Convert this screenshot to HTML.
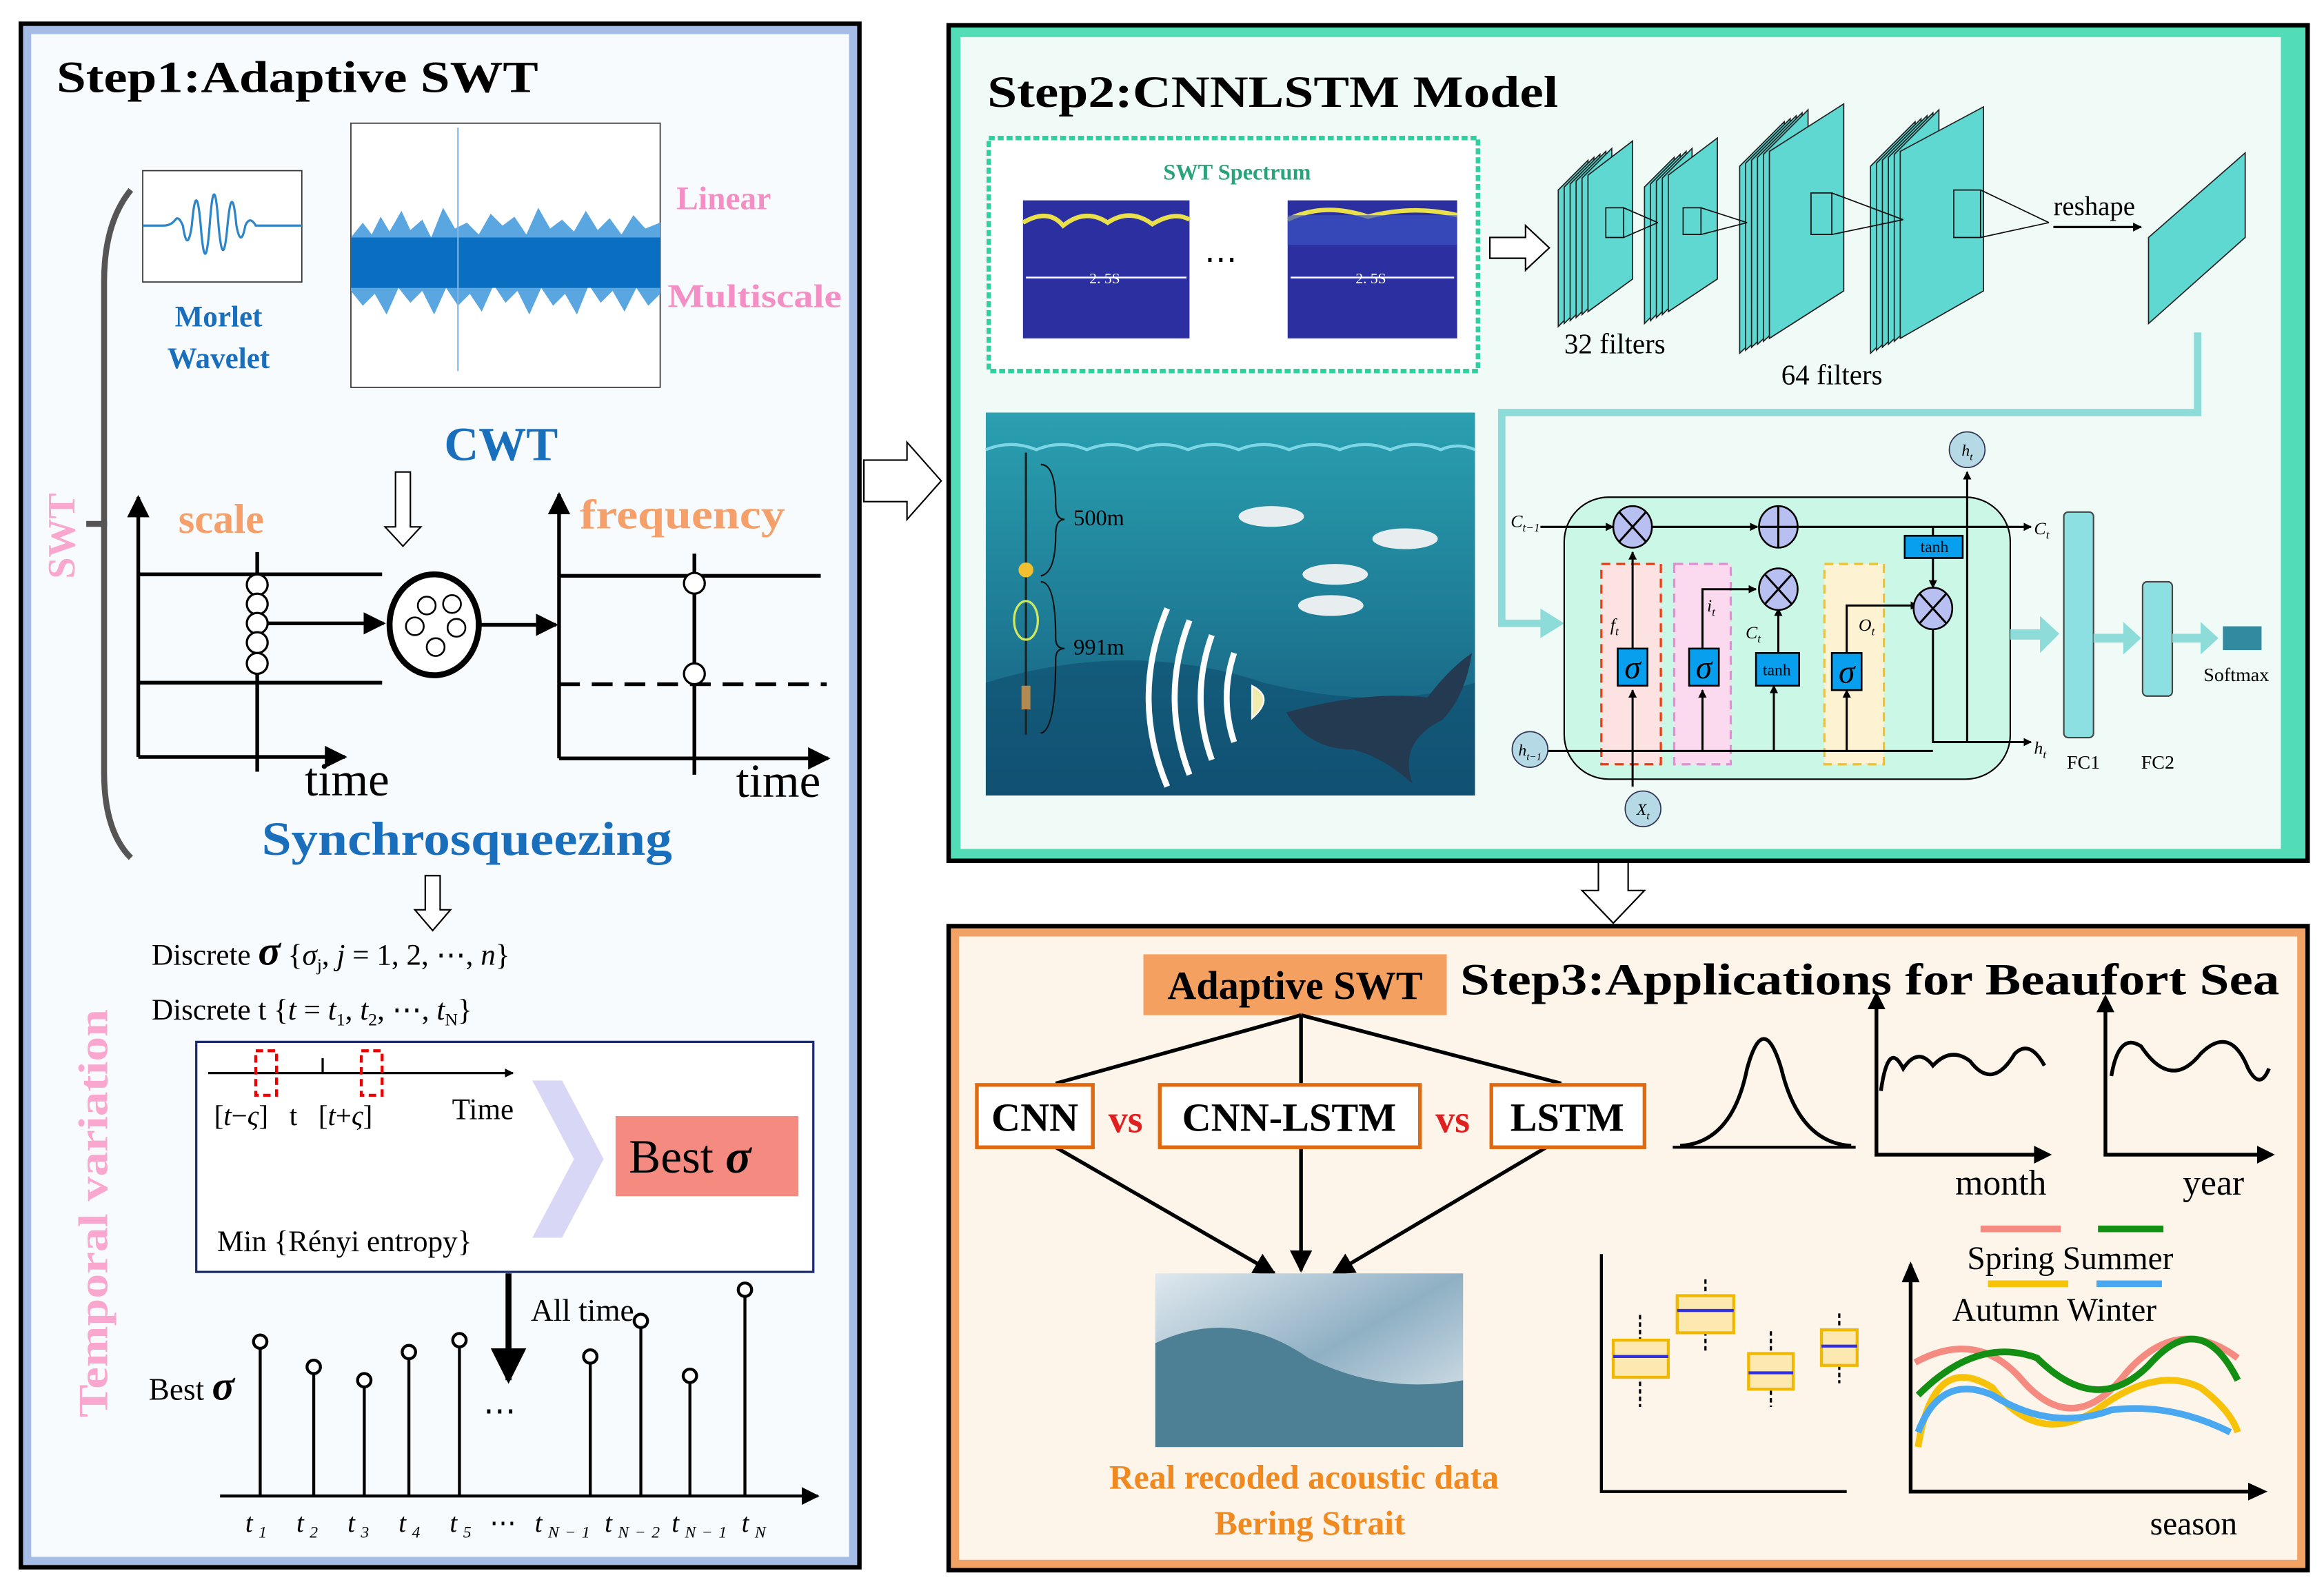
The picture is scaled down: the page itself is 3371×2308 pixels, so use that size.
<!DOCTYPE html>
<html><head><meta charset="utf-8"><style>
html,body{margin:0;padding:0;background:#fff}
svg{display:block}
text{font-family:"Liberation Serif",serif}
</style></head><body>
<svg width="3371" height="2308" viewBox="0 0 1563 1072" preserveAspectRatio="none" xmlns="http://www.w3.org/2000/svg">
<defs>
<marker id="ah" viewBox="0 0 10 10" refX="9" refY="5" markerWidth="6" markerHeight="6" orient="auto"><path d="M0,0L10,5L0,10z" fill="#000"/></marker>
<marker id="ahs" viewBox="0 0 10 10" refX="9" refY="5" markerWidth="4" markerHeight="5" orient="auto"><path d="M0,0L10,5L0,10z" fill="#000"/></marker>
<linearGradient id="sea" x1="0" y1="0" x2="0" y2="1"><stop offset="0" stop-color="#2aa0b0"/><stop offset="0.5" stop-color="#1f7f98"/><stop offset="1" stop-color="#145678"/></linearGradient>
<linearGradient id="ice" x1="0" y1="0" x2="1" y2="1"><stop offset="0" stop-color="#dfe8ee"/><stop offset="0.5" stop-color="#8fb0c4"/><stop offset="1" stop-color="#e8eef2"/></linearGradient>
</defs>
<rect width="1563" height="1072" fill="#fff"/>

<!-- PANEL 1 -->
<rect x="14" y="16" width="564" height="1040" fill="#a4bce6" stroke="#000" stroke-width="3"/>
<rect x="21" y="23" width="550" height="1026" fill="#f8fbfe"/>
<text x="38" y="62" font-size="30" font-weight="bold" textLength="324" lengthAdjust="spacingAndGlyphs">Step1:Adaptive SWT</text>
<!-- morlet -->
<rect x="96" y="115" width="107" height="75" fill="#fff" stroke="#333" stroke-width="0.8"/>
<path d="M96,152 L110,152 Q115,152 118,148 Q120,145 123,152 Q126,172 129,152 Q132,118 135,152 Q138,190 141,152 Q144,110 147,152 Q150,185 153,152 Q156,120 159,152 Q162,168 165,152 Q168,145 172,152 L203,152" fill="none" stroke="#2e86c8" stroke-width="1.5"/>
<text x="147" y="220" font-size="20" font-weight="bold" fill="#1a6fbd" text-anchor="middle">Morlet</text>
<text x="147" y="248" font-size="20" font-weight="bold" fill="#1a6fbd" text-anchor="middle">Wavelet</text>
<!-- signal -->
<rect x="236" y="83" width="208" height="178" fill="#fff" stroke="#333" stroke-width="0.8"/>
<path d="M236,160 L244,150 L250,158 L256,146 L262,156 L270,142 L276,155 L284,148 L290,160 L298,140 L306,154 L314,150 L322,158 L330,144 L338,152 L346,146 L354,158 L362,140 L370,154 L378,148 L386,156 L394,142 L402,155 L410,147 L418,158 L426,145 L434,154 L444,150 L444,198 L436,206 L428,194 L420,210 L412,196 L404,204 L396,192 L388,212 L380,198 L372,206 L364,194 L356,212 L348,196 L340,204 L332,192 L324,210 L316,198 L308,206 L300,194 L292,212 L284,196 L276,204 L268,194 L260,212 L252,198 L244,206 L236,196z" fill="#5aa6e0"/>
<rect x="236" y="160" width="208" height="34" fill="#0a6fc0"/>
<line x1="308" y1="86" x2="308" y2="250" stroke="#7fb6e2" stroke-width="1"/>
<text x="337" y="310" font-size="32" font-weight="bold" fill="#1a6fbd" text-anchor="middle">CWT</text>
<text x="455" y="141" font-size="22" font-weight="bold" fill="#f38fc4">Linear</text>
<text x="449" y="207" font-size="22" font-weight="bold" fill="#f38fc4" textLength="117" lengthAdjust="spacingAndGlyphs">Multiscale</text>
<!-- brace -->
<path d="M88,128 Q70,150 70,190 L70,520 Q70,560 88,578" fill="none" stroke="#555" stroke-width="4"/>
<line x1="58" y1="353" x2="72" y2="353" stroke="#555" stroke-width="4"/>
<text transform="translate(50,390) rotate(-90)" font-size="26" font-weight="bold" fill="#f9a7cf">SWT</text>
<!-- scale plot -->
<line x1="93" y1="510" x2="93" y2="335" stroke="#000" stroke-width="2.5" marker-end="url(#ah)"/>
<line x1="93" y1="510" x2="232" y2="510" stroke="#000" stroke-width="2.5" marker-end="url(#ah)"/>
<line x1="93" y1="387" x2="257" y2="387" stroke="#000" stroke-width="2.5"/>
<line x1="93" y1="460" x2="257" y2="460" stroke="#000" stroke-width="2.5"/>
<line x1="173" y1="372" x2="173" y2="520" stroke="#000" stroke-width="2.5"/>
<g fill="#fff" stroke="#000" stroke-width="1.5"><circle cx="173" cy="394" r="7"/><circle cx="173" cy="407" r="7"/><circle cx="173" cy="420" r="7"/><circle cx="173" cy="433" r="7"/><circle cx="173" cy="447" r="7"/></g>
<line x1="180" y1="420" x2="258" y2="420" stroke="#000" stroke-width="2.5" marker-end="url(#ah)"/>
<text x="120" y="359" font-size="28" font-weight="bold" fill="#f5a06a">scale</text>
<text x="205" y="536" font-size="32">time</text>
<path d="M266,318 L276,318 L276,355 L283,355 L271,368 L259,355 L266,355z" fill="#fff" stroke="#000" stroke-width="1"/>
<ellipse cx="292" cy="421" rx="30" ry="34" fill="#fff" stroke="#000" stroke-width="4"/>
<g fill="#fff" stroke="#000" stroke-width="1.2"><circle cx="287" cy="408" r="6"/><circle cx="304" cy="407" r="6"/><circle cx="279" cy="422" r="6"/><circle cx="307" cy="423" r="6"/><circle cx="293" cy="436" r="6"/></g>
<line x1="322" y1="421" x2="374" y2="421" stroke="#000" stroke-width="2.5" marker-end="url(#ah)"/>
<!-- freq plot -->
<line x1="376" y1="511" x2="376" y2="333" stroke="#000" stroke-width="2.5" marker-end="url(#ah)"/>
<line x1="376" y1="511" x2="557" y2="511" stroke="#000" stroke-width="2.5" marker-end="url(#ah)"/>
<line x1="376" y1="388" x2="552" y2="388" stroke="#000" stroke-width="2.5"/>
<line x1="376" y1="461" x2="556" y2="461" stroke="#000" stroke-width="2.5" stroke-dasharray="14 8"/>
<line x1="467" y1="373" x2="467" y2="522" stroke="#000" stroke-width="2.5"/>
<circle cx="467" cy="393" r="7" fill="#fff" stroke="#000" stroke-width="1.5"/>
<circle cx="467" cy="454" r="7" fill="#fff" stroke="#000" stroke-width="1.5"/>
<text x="390" y="356" font-size="28" font-weight="bold" fill="#f5a06a" textLength="138" lengthAdjust="spacingAndGlyphs">frequency</text>
<text x="495" y="537" font-size="32">time</text>
<text x="176" y="576" font-size="32" font-weight="bold" fill="#1a6fbd" textLength="276" lengthAdjust="spacingAndGlyphs">Synchrosqueezing</text>
<path d="M286,590 L296,590 L296,613 L303,613 L291,627 L279,613 L286,613z" fill="#fff" stroke="#000" stroke-width="1"/>
<!-- temporal -->
<text transform="translate(72,955) rotate(-90)" font-size="28" font-weight="bold" fill="#f9a7cf" textLength="275" lengthAdjust="spacingAndGlyphs">Temporal variation</text>
<text x="102" y="650" font-size="20">Discrete <tspan font-size="28" font-style="italic" font-weight="bold">σ</tspan> {<tspan font-style="italic">σ</tspan><tspan font-size="12" dy="4">j</tspan><tspan dy="-4">, </tspan><tspan font-style="italic">j</tspan> = 1, 2, ⋯, <tspan font-style="italic">n</tspan>}</text>
<text x="102" y="687" font-size="20">Discrete t   {<tspan font-style="italic">t</tspan> = <tspan font-style="italic">t</tspan><tspan font-size="12" dy="4">1</tspan><tspan dy="-4">, </tspan><tspan font-style="italic">t</tspan><tspan font-size="12" dy="4">2</tspan><tspan dy="-4">, ⋯, </tspan><tspan font-style="italic">t</tspan><tspan font-size="12" dy="4">N</tspan><tspan dy="-4">}</tspan></text>
<rect x="132" y="702" width="415" height="155" fill="#fff" stroke="#1b2a6b" stroke-width="1.5"/>
<line x1="140" y1="723" x2="345" y2="723" stroke="#000" stroke-width="1.5" marker-end="url(#ahs)"/>
<line x1="217" y1="713" x2="217" y2="723" stroke="#000" stroke-width="1.5"/>
<rect x="172" y="708" width="14" height="30" fill="none" stroke="#e00" stroke-width="2" stroke-dasharray="5 3"/>
<rect x="243" y="708" width="14" height="30" fill="none" stroke="#e00" stroke-width="2" stroke-dasharray="5 3"/>
<text x="144" y="758" font-size="19" xml:space="preserve">[<tspan font-style="italic">t</tspan>−<tspan font-style="italic">ς</tspan>]   t   [<tspan font-style="italic">t</tspan>+<tspan font-style="italic">ς</tspan>]</text>
<text x="304" y="754" font-size="20">Time</text>
<path d="M358,728 L378,728 L406,781 L378,834 L358,834 L386,781z" fill="#d9d7f6"/>
<rect x="414" y="752" width="123" height="54" fill="#f58a80"/>
<text x="423" y="790" font-size="32">Best <tspan font-style="italic" font-weight="bold">σ</tspan></text>
<text x="146" y="843" font-size="20">Min {Rényi entropy}</text>
<line x1="342" y1="858" x2="342" y2="930" stroke="#000" stroke-width="4" marker-end="url(#ah)"/>
<text x="357" y="890" font-size="21">All time</text>
<text x="100" y="943" font-size="21">Best <tspan font-size="28" font-style="italic" font-weight="bold">σ</tspan></text>
<line x1="148" y1="1008" x2="550" y2="1008" stroke="#000" stroke-width="2" marker-end="url(#ah)"/>
<g stroke="#000" stroke-width="2" fill="#fff">
<line x1="175" y1="904" x2="175" y2="1008"/><circle cx="175" cy="904" r="4.5"/>
<line x1="211" y1="921" x2="211" y2="1008"/><circle cx="211" cy="921" r="4.5"/>
<line x1="245" y1="930" x2="245" y2="1008"/><circle cx="245" cy="930" r="4.5"/>
<line x1="275" y1="911" x2="275" y2="1008"/><circle cx="275" cy="911" r="4.5"/>
<line x1="309" y1="903" x2="309" y2="1008"/><circle cx="309" cy="903" r="4.5"/>
<line x1="397" y1="914" x2="397" y2="1008"/><circle cx="397" cy="914" r="4.5"/>
<line x1="431" y1="890" x2="431" y2="1008"/><circle cx="431" cy="890" r="4.5"/>
<line x1="464" y1="927" x2="464" y2="1008"/><circle cx="464" cy="927" r="4.5"/>
<line x1="501" y1="869" x2="501" y2="1008"/><circle cx="501" cy="869" r="4.5"/>
</g>
<text x="325" y="958" font-size="22">⋯</text>
<text x="165" y="1032" font-size="18" font-style="italic" textLength="350" lengthAdjust="spacing">t<tspan font-size="11" dy="4">1</tspan><tspan dy="-4" dx="16">t</tspan><tspan font-size="11" dy="4">2</tspan><tspan dy="-4" dx="16">t</tspan><tspan font-size="11" dy="4">3</tspan><tspan dy="-4" dx="16">t</tspan><tspan font-size="11" dy="4">4</tspan><tspan dy="-4" dx="16">t</tspan><tspan font-size="11" dy="4">5</tspan><tspan dy="-4" font-style="normal"> ⋯ </tspan><tspan>t</tspan><tspan font-size="11" dy="4">N−1</tspan><tspan dy="-4" dx="6">t</tspan><tspan font-size="11" dy="4">N−2</tspan><tspan dy="-4" dx="4">t</tspan><tspan font-size="11" dy="4">N−1</tspan><tspan dy="-4" dx="6">t</tspan><tspan font-size="11" dy="4">N</tspan></text>

<!-- arrows between panels -->
<path d="M581,310 L610,310 L610,298 L633,324 L610,350 L610,338 L581,338z" fill="#fff" stroke="#000" stroke-width="1"/>
<path d="M1075,580 L1095,580 L1095,600 L1106,600 L1085,622 L1064,600 L1075,600z" fill="#fff" stroke="#000" stroke-width="1"/>

<!-- PANEL 2 -->
<rect x="638" y="17" width="914" height="563" fill="#52ddb7" stroke="#000" stroke-width="3"/>
<rect x="646" y="25" width="888" height="547" fill="#f0fbf8"/>
<text x="664" y="72" font-size="30" font-weight="bold" textLength="384" lengthAdjust="spacingAndGlyphs">Step2:CNNLSTM Model</text>
<rect x="665" y="93" width="329" height="157" fill="#fff" stroke="#2fcfa0" stroke-width="3" stroke-dasharray="4 2"/>
<text x="832" y="121" font-size="15" font-weight="bold" fill="#2aa37a" text-anchor="middle">SWT Spectrum</text>
<rect x="688" y="135" width="112" height="93" fill="#2c2fa0"/>
<path d="M688,150 Q705,140 715,152 Q730,140 745,150 Q760,140 775,151 Q790,142 800,148" stroke="#e9e04a" stroke-width="3" fill="none"/>
<rect x="866" y="135" width="114" height="93" fill="#2c2fa0"/>
<path d="M866,148 Q890,136 920,146 Q950,138 980,145" stroke="#e9e04a" stroke-width="3" fill="none"/>
<rect x="866" y="145" width="114" height="20" fill="#3a53c0" opacity="0.7"/>
<line x1="690" y1="187" x2="798" y2="187" stroke="#fff" stroke-width="1.2"/>
<line x1="868" y1="187" x2="978" y2="187" stroke="#fff" stroke-width="1.2"/>
<text x="743" y="191" font-size="10" fill="#fff" text-anchor="middle">2. 5S</text>
<text x="922" y="191" font-size="10" fill="#fff" text-anchor="middle">2. 5S</text>
<text x="810" y="182" font-size="22">⋯</text>
<path d="M1002,160 L1026,160 L1026,152 L1042,167 L1026,182 L1026,174 L1002,174z" fill="#fff" stroke="#000" stroke-width="1"/>
<!-- conv stacks -->
<g stroke="#222" stroke-width="0.8" fill="#5fd8d2">
<path d="M1048,128 L1068,108 L1068,200 L1048,220z"/><path d="M1052,126 L1072,106 L1072,198 L1052,218z"/><path d="M1056,124 L1076,104 L1076,196 L1056,216z"/><path d="M1060,122 L1080,102 L1080,194 L1060,214z"/><path d="M1064,120 L1084,100 L1084,192 L1064,212z"/><path d="M1068,118 L1098,95 L1098,188 L1068,210z"/>
<path d="M1106,126 L1126,106 L1126,198 L1106,218z"/><path d="M1110,124 L1130,104 L1130,196 L1110,216z"/><path d="M1114,122 L1134,102 L1134,194 L1114,214z"/><path d="M1118,120 L1138,100 L1138,192 L1118,212z"/><path d="M1122,118 L1155,93 L1155,188 L1122,210z"/>
<path d="M1170,112 L1200,82 L1200,210 L1170,238z"/><path d="M1174,110 L1204,80 L1204,208 L1174,236z"/><path d="M1178,108 L1208,78 L1208,206 L1178,234z"/><path d="M1182,106 L1212,76 L1212,204 L1182,232z"/><path d="M1186,104 L1216,74 L1216,202 L1186,230z"/><path d="M1190,102 L1240,70 L1240,196 L1190,228z"/>
<path d="M1258,112 L1288,82 L1288,210 L1258,238z"/><path d="M1262,110 L1292,80 L1292,208 L1262,236z"/><path d="M1266,108 L1296,78 L1296,206 L1266,234z"/><path d="M1270,106 L1300,76 L1300,204 L1270,232z"/><path d="M1274,104 L1304,74 L1304,202 L1274,230z"/><path d="M1278,102 L1334,72 L1334,196 L1278,228z"/>
<path d="M1445,160 L1510,103 L1510,160 L1445,218z"/>
</g>
<g stroke="#111" stroke-width="0.8" fill="none">
<path d="M1080,140 L1092,140 L1092,160 L1080,160z M1092,140 L1115,150 M1092,160 L1115,150"/>
<path d="M1132,140 L1144,140 L1144,158 L1132,158z M1144,140 L1175,150 M1144,158 L1175,150"/>
<path d="M1218,130 L1232,130 L1232,158 L1218,158z M1232,130 L1280,148 M1232,158 L1280,148"/>
<path d="M1314,128 L1332,128 L1332,160 L1314,160z M1332,128 L1378,150 M1332,160 L1378,150"/>
</g>
<text x="1052" y="238" font-size="19">32 filters</text>
<text x="1198" y="259" font-size="19">64 filters</text>
<text x="1381" y="145" font-size="18">reshape</text>
<line x1="1381" y1="153" x2="1440" y2="153" stroke="#000" stroke-width="1.5" marker-end="url(#ahs)"/>
<!-- teal connector -->
<path d="M1478,224 L1478,278 L1010,278 L1010,420 L1040,420" fill="none" stroke="#8edcda" stroke-width="5"/>
<path d="M1036,410 L1052,420 L1036,430z" fill="#8edcda"/>
<!-- ocean -->
<rect x="663" y="278" width="329" height="258" fill="url(#sea)"/>
<path d="M663,303 Q680,296 697,303 Q714,296 731,303 Q748,296 765,303 Q782,296 799,303 Q816,296 833,303 Q850,296 867,303 Q884,296 901,303 Q918,296 935,303 Q952,296 969,303 Q980,298 992,303" fill="none" stroke="#7dd6e6" stroke-width="2"/>
<path d="M663,460 Q760,430 850,460 Q930,480 992,460 L992,536 L663,536z" fill="#0f4d6e" opacity="0.6"/>
<line x1="690" y1="305" x2="690" y2="495" stroke="#222" stroke-width="1.5"/>
<circle cx="690" cy="384" r="5" fill="#f0c030"/>
<ellipse cx="690" cy="418" rx="8" ry="13" fill="none" stroke="#cfe860" stroke-width="1.5"/>
<rect x="687" y="462" width="6" height="16" fill="#b08a50"/>
<path d="M700,313 Q710,313 710,340 Q710,350 716,350 Q710,350 710,360 Q710,386 700,388" fill="none" stroke="#111" stroke-width="1"/>
<path d="M700,392 Q710,392 710,430 Q710,437 716,437 Q710,437 710,444 Q710,492 700,494" fill="none" stroke="#111" stroke-width="1"/>
<text x="722" y="354" font-size="15">500m</text>
<text x="722" y="441" font-size="15">991m</text>
<g fill="#e8eef0"><ellipse cx="855" cy="348" rx="22" ry="7"/><ellipse cx="945" cy="363" rx="22" ry="7"/><ellipse cx="898" cy="387" rx="22" ry="7"/><ellipse cx="895" cy="408" rx="22" ry="7"/></g>
<g fill="none" stroke="#fff" stroke-width="4"><path d="M830,440 Q820,470 830,500"/><path d="M815,428 Q800,470 815,512"/><path d="M800,418 Q780,470 800,522"/><path d="M785,410 Q760,470 785,530"/></g>
<path d="M842,462 Q858,470 842,484z" fill="#f0ecb0" stroke="#fff"/>
<path d="M865,480 Q920,465 960,470 Q975,450 990,440 Q985,470 970,485 Q940,500 950,528 Q930,510 910,505 Q880,505 865,480z" fill="#233a50"/>
<!-- LSTM -->
<rect x="1052" y="335" width="300" height="190" rx="30" fill="#cbf7e6" stroke="#000" stroke-width="1"/>
<rect x="1077" y="380" width="40" height="135" fill="#fde2e2" stroke="#f03a10" stroke-width="1.5" stroke-dasharray="6 4"/>
<rect x="1126" y="380" width="38" height="135" fill="#fbd9ef" stroke="#e88ad6" stroke-width="1.5" stroke-dasharray="6 4"/>
<rect x="1227" y="380" width="40" height="135" fill="#fdf2d2" stroke="#f6c020" stroke-width="1.5" stroke-dasharray="6 4"/>
<g stroke="#000" stroke-width="1.4" fill="none">
<line x1="1036" y1="355" x2="1085" y2="355" marker-end="url(#ahs)"/>
<line x1="1111" y1="355" x2="1182" y2="355" marker-end="url(#ahs)"/>
<line x1="1208" y1="355" x2="1366" y2="355" marker-end="url(#ahs)"/>
<line x1="1040" y1="506" x2="1300" y2="506"/>
<path d="M1300,420 L1300,500 L1366,500" marker-end="url(#ahs)"/>
<line x1="1323" y1="500" x2="1323" y2="318" marker-end="url(#ahs)"/>
<line x1="1098" y1="530" x2="1098" y2="465" marker-end="url(#ahs)"/>
<line x1="1098" y1="437" x2="1098" y2="372" marker-end="url(#ahs)"/>
<line x1="1145" y1="506" x2="1145" y2="465" marker-end="url(#ahs)"/>
<path d="M1145,437 L1145,397 L1181,397" marker-end="url(#ahs)"/>
<line x1="1193" y1="506" x2="1193" y2="462" marker-end="url(#ahs)"/>
<line x1="1196" y1="440" x2="1196" y2="410" marker-end="url(#ahs)"/>
<line x1="1242" y1="506" x2="1242" y2="465" marker-end="url(#ahs)"/>
<path d="M1242,440 L1242,408 L1290,408" marker-end="url(#ahs)"/>
<line x1="1300" y1="355" x2="1300" y2="362"/>
<line x1="1300" y1="376" x2="1300" y2="396" marker-end="url(#ahs)"/>
</g>
<g fill="#b8c0f2" stroke="#000" stroke-width="1.2">
<ellipse cx="1098" cy="355" rx="13" ry="14"/><ellipse cx="1196" cy="355" rx="13" ry="14"/><ellipse cx="1196" cy="397" rx="13" ry="14"/><ellipse cx="1300" cy="410" rx="13" ry="14"/>
</g>
<g stroke="#000" stroke-width="1.4">
<path d="M1089,345 L1107,365 M1107,345 L1089,365"/><path d="M1196,341 L1196,369 M1183,355 L1209,355"/><path d="M1187,387 L1205,407 M1205,387 L1187,407"/><path d="M1291,400 L1309,420 M1309,400 L1291,420"/>
</g>
<g fill="#08a0ee" stroke="#000" stroke-width="1.2">
<rect x="1088" y="437" width="20" height="25"/><rect x="1136" y="437" width="20" height="25"/><rect x="1181" y="440" width="29" height="22"/><rect x="1232" y="440" width="20" height="25"/><rect x="1281" y="361" width="39" height="15"/>
</g>
<g font-size="22" font-style="italic" text-anchor="middle"><text x="1098" y="457">σ</text><text x="1146" y="457">σ</text><text x="1242" y="460">σ</text></g>
<text x="1195" y="455" font-size="11" text-anchor="middle">tanh</text>
<text x="1301" y="372" font-size="11" text-anchor="middle">tanh</text>
<g font-size="12" font-style="italic"><text x="1083" y="425">f<tspan font-size="8" dy="3">t</tspan></text><text x="1148" y="412">i<tspan font-size="8" dy="3">t</tspan></text><text x="1174" y="430">C<tspan font-size="8" dy="3">t</tspan></text><text x="1250" y="425">O<tspan font-size="8" dy="3">t</tspan></text><text x="1016" y="355">C<tspan font-size="8" dy="3">t−1</tspan></text><text x="1368" y="360">C<tspan font-size="8" dy="3">t</tspan></text><text x="1368" y="508">h<tspan font-size="8" dy="3">t</tspan></text></g>
<g fill="#b5dae6" stroke="#335" stroke-width="0.8"><circle cx="1323" cy="303" r="12"/><circle cx="1029" cy="505" r="12"/><circle cx="1105" cy="545" r="12"/></g>
<g font-size="11" font-style="italic" text-anchor="middle"><text x="1323" y="307">h<tspan font-size="7" dy="3">t</tspan></text><text x="1029" y="509">h<tspan font-size="7" dy="3">t−1</tspan></text><text x="1105" y="549">X<tspan font-size="7" dy="3">t</tspan></text></g>
<rect x="1388" y="345" width="20" height="152" rx="3" fill="#8de0e2" stroke="#444" stroke-width="1"/>
<rect x="1441" y="392" width="20" height="77" rx="3" fill="#8de0e2" stroke="#444" stroke-width="1"/>
<rect x="1495" y="422" width="26" height="16" fill="#328aa0"/>
<g fill="#8edcda"><path d="M1352,424 L1372,424 L1372,415 L1385,427 L1372,440 L1372,431 L1352,431z"/><path d="M1408,427 L1428,427 L1428,419 L1440,430 L1428,441 L1428,433 L1408,433z"/><path d="M1461,427 L1480,427 L1480,419 L1492,430 L1480,441 L1480,433 L1461,433z"/></g>
<text x="1390" y="518" font-size="13">FC1</text>
<text x="1440" y="518" font-size="13">FC2</text>
<text x="1482" y="459" font-size="13">Softmax</text>

<!-- PANEL 3 -->
<rect x="638" y="624" width="914" height="434" fill="#f3a266" stroke="#000" stroke-width="3"/>
<rect x="645" y="631" width="900" height="420" fill="#fdf4ea"/>
<rect x="769" y="643" width="204" height="41" fill="#f4a060"/>
<text x="871" y="673" font-size="27" font-weight="bold" text-anchor="middle">Adaptive SWT</text>
<text x="982" y="670" font-size="30" font-weight="bold" textLength="551" lengthAdjust="spacingAndGlyphs">Step3:Applications for Beaufort Sea</text>
<g stroke="#000" stroke-width="2.5" fill="none">
<line x1="875" y1="684" x2="875" y2="730"/><line x1="875" y1="684" x2="710" y2="730"/><line x1="875" y1="684" x2="1050" y2="730"/>
<line x1="710" y1="773" x2="857" y2="858" marker-end="url(#ah)"/><line x1="875" y1="773" x2="875" y2="856" marker-end="url(#ah)"/><line x1="1040" y1="773" x2="897" y2="858" marker-end="url(#ah)"/>
</g>
<g fill="#fff" stroke="#e06a10" stroke-width="2.5"><rect x="657" y="731" width="78" height="42"/><rect x="780" y="731" width="175" height="42"/><rect x="1003" y="731" width="103" height="42"/></g>
<g font-size="27" font-weight="bold" text-anchor="middle"><text x="696" y="762">CNN</text><text x="867" y="762">CNN-LSTM</text><text x="1054" y="762">LSTM</text></g>
<g font-size="26" font-weight="bold" fill="#e02020" text-anchor="middle"><text x="757" y="763">vs</text><text x="977" y="763">vs</text></g>
<rect x="777" y="858" width="207" height="117" fill="url(#ice)"/>
<path d="M777,905 Q830,880 880,915 Q930,940 984,930 L984,975 L777,975z" fill="#4d7f95"/>
<text x="877" y="1003" font-size="23" font-weight="bold" fill="#f08a20" text-anchor="middle">Real recoded acoustic data</text>
<text x="881" y="1034" font-size="23" font-weight="bold" fill="#f08a20" text-anchor="middle">Bering Strait</text>
<!-- charts -->
<line x1="1125" y1="773" x2="1248" y2="773" stroke="#000" stroke-width="2"/>
<path d="M1130,772 Q1165,770 1175,720 Q1186,680 1198,720 Q1210,770 1245,772" fill="none" stroke="#000" stroke-width="2.5"/>
<g stroke="#000" stroke-width="2.5" fill="none">
<path d="M1262,672 L1262,778 L1375,778" /><path d="M1416,675 L1416,778 L1525,778"/>
<path d="M1265,735 Q1270,700 1280,720 Q1290,705 1300,718 Q1312,705 1325,715 Q1340,735 1355,710 Q1365,700 1375,718"/>
<path d="M1420,725 Q1425,695 1440,705 Q1460,735 1480,710 Q1500,690 1512,720 Q1520,735 1526,720"/>
</g>
<path d="M1256,680 L1262,668 L1268,680z M1368,772 L1380,778 L1368,784z M1410,682 L1416,670 L1422,682z M1518,772 L1530,778 L1518,784z"/>
<text x="1315" y="805" font-size="24">month</text>
<text x="1468" y="805" font-size="24">year</text>
<path d="M1077,845 L1077,1005 L1242,1005" fill="none" stroke="#000" stroke-width="2"/>
<g stroke="#000" stroke-width="1.5" stroke-dasharray="3 2"><line x1="1103" y1="886" x2="1103" y2="948"/><line x1="1147" y1="862" x2="1147" y2="910"/><line x1="1191" y1="897" x2="1191" y2="948"/><line x1="1237" y1="885" x2="1237" y2="932"/></g>
<g fill="#fde8b0" stroke="#f0b800" stroke-width="2"><rect x="1085" y="903" width="37" height="25"/><rect x="1128" y="873" width="38" height="25"/><rect x="1176" y="912" width="30" height="24"/><rect x="1225" y="896" width="24" height="24"/></g>
<g stroke="#3030e0" stroke-width="2"><line x1="1085" y1="914" x2="1122" y2="914"/><line x1="1128" y1="883" x2="1166" y2="883"/><line x1="1176" y1="925" x2="1206" y2="925"/><line x1="1225" y1="907" x2="1249" y2="907"/></g>
<path d="M1285,852 L1285,1005 L1520,1005" fill="none" stroke="#000" stroke-width="2.5"/>
<path d="M1279,864 L1285,850 L1291,864z M1512,999 L1525,1005 L1512,1011z"/>
<g stroke-width="4.5" fill="none">
<line x1="1332" y1="828" x2="1386" y2="828" stroke="#f58a80"/><line x1="1411" y1="828" x2="1455" y2="828" stroke="#139013"/>
<line x1="1337" y1="865" x2="1391" y2="865" stroke="#f6c20a"/><line x1="1410" y1="865" x2="1454" y2="865" stroke="#4aa8f0"/>
<path d="M1288,918 Q1330,895 1360,930 Q1395,970 1430,925 Q1465,885 1505,915" stroke="#f58a80"/>
<path d="M1290,940 Q1330,900 1370,915 Q1410,955 1445,920 Q1480,880 1505,930" stroke="#139013"/>
<path d="M1290,975 Q1300,910 1340,935 Q1370,975 1410,950 Q1450,920 1480,935 Q1500,950 1505,965" stroke="#f6c20a"/>
<path d="M1290,965 Q1305,925 1340,940 Q1380,965 1420,950 Q1460,945 1500,965" stroke="#4aa8f0"/>
</g>
<text x="1323" y="855" font-size="22">Spring Summer</text>
<text x="1313" y="890" font-size="22">Autumn  Winter</text>
<text x="1446" y="1034" font-size="22">season</text>
</svg>
</body></html>
